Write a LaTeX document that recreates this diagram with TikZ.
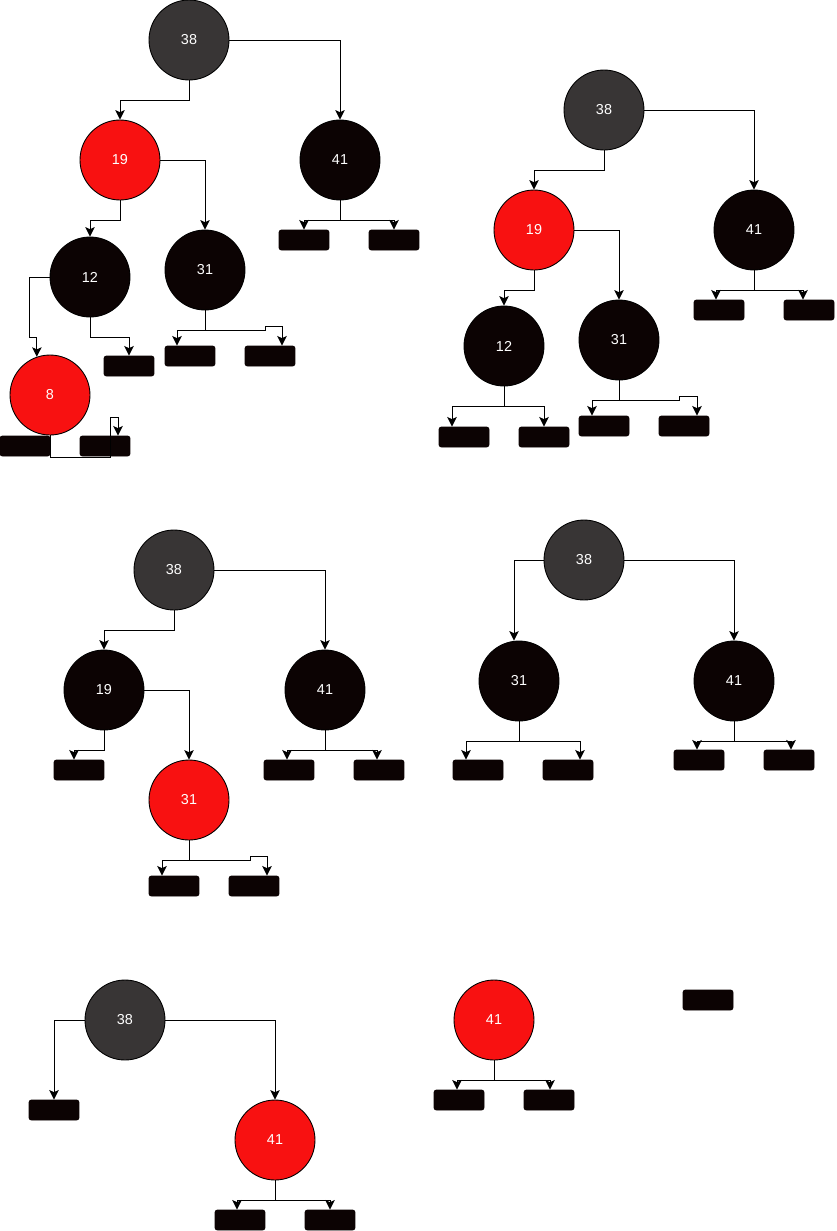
\documentclass[tikz,border=0pt]{standalone}
\usepackage{fontspec}
\setmainfont{Liberation Sans}
\usepackage{xcolor}
\usepackage{tikz}
\usetikzlibrary{arrows.meta, calc}

\definecolor{rbred}{RGB}{248,17,17}
\definecolor{rbblack}{RGB}{12,3,3}
\definecolor{rbgray}{RGB}{56,53,53}

\begin{document}
\begin{tikzpicture}[x={(0.02cm,0)}, y={(0,-0.02cm)}, >={Stealth[length=5.4pt, width=5.4pt, inset=1.2pt]},
      font=\fontsize{8.2}{10}\selectfont, line width=0.55pt,
      key/.style={circle, draw=black, line width=0.5pt, minimum size=1.6cm, inner sep=0pt, text=white},
      redkey/.style={key, fill=rbred},
      blackkey/.style={key, fill=rbblack},
      rootkey/.style={key, fill=rbgray},
      nil/.style={draw=rbblack, fill=rbblack, rounded corners=1.5pt, minimum width=1cm, minimum height=0.4cm, inner sep=0pt}]
    \useasboundingbox (0,0) rectangle (836,1231);
    % --- Tree 1: after inserting 8 ---
    \node[rootkey]  (r1) at (189,40)  {38};
    \node[redkey]   (a1) at (120,160) {19};
    \node[blackkey] (b1) at (340,160) {41};
    \node[blackkey] (c1) at (90,277)  {12};
    \node[blackkey] (d1) at (205,270) {31};
    \node[redkey]   (e1) at (50,395)  {8};
    \node[nil] (n1) at (304,240) {};
    \node[nil] (n2) at (394,240) {};
    \node[nil] (n3) at (129,366) {};
    \node[nil] (n4) at (190,356) {};
    \node[nil] (n5) at (270,356) {};
    \node[nil] (n6) at (25,446)  {};
    \node[nil] (n7) at (105,446) {};
    \draw[->] (r1.south) -- ++(0,20) -| (a1.north);
    \draw[->] (r1.east) -| (b1.north);
    \draw[->] (a1.south) -- ++(0,20) -| (c1.north);
    \draw[->] (a1.east) -| (d1.north);
    \draw[->] (b1.south) -- ++(0,20) -| (n1.north);
    \draw[->] (b1.south) -- ++(0,20) -| (n2.north);
    \draw[->] (c1.west) -- ++(-20,0) -- ++(0,60) -| (e1.109);
    \draw[->] (c1.south) -- ++(0,20) -| (n3.north);
    \draw[->] (d1.south) -- ++(0,20) -| ($(n4.north)+(-13,0)$);
    \draw[->] (d1.south) -- ++(0,20) -- ++(60,0) -- ++(0,-4) -| ($(n5.north)+(12,0)$);
    \draw[->] (e1.south) |- ++(60,22) -- ++(0,-40) -| ($(n7.north)+(13,0)$);
    % --- Tree 2: recoloured ---
    \node[rootkey]  (r2) at (604,110) {38};
    \node[redkey]   (a2) at (534,230) {19};
    \node[blackkey] (b2) at (754,230) {41};
    \node[blackkey] (c2) at (504,346) {12};
    \node[blackkey] (d2) at (619,340) {31};
    \node[nil] (m1) at (719,310) {};
    \node[nil] (m2) at (809,310) {};
    \node[nil] (m3) at (464,437) {};
    \node[nil] (m4) at (544,437) {};
    \node[nil] (m5) at (604,426) {};
    \node[nil] (m6) at (684,426) {};
    \draw[->] (r2.south) -- ++(0,20) -| (a2.north);
    \draw[->] (r2.east) -| (b2.north);
    \draw[->] (a2.south) -- ++(0,20) -| (c2.north);
    \draw[->] (a2.east) -| (d2.north);
    \draw[->] (b2.south) -- ++(0,20) -| ($(m1.north)+(-3,0)$);
    \draw[->] (b2.south) -- ++(0,20) -| ($(m2.north)+(-6,0)$);
    \draw[->] (c2.south) -- ++(0,20) -| ($(m3.north)+(-12,0)$);
    \draw[->] (c2.south) -- ++(0,20) -| (m4.north);
    \draw[->] (d2.south) -- ++(0,20) -| ($(m5.north)+(-12,0)$);
    \draw[->] (d2.south) -- ++(0,20) -- ++(60,0) -- ++(0,-4) -| ($(m6.north)+(13,0)$);
    % --- Tree 3: 12 removed ---
    \node[rootkey]  (r3) at (174,570) {38};
    \node[blackkey] (a3) at (104,690) {19};
    \node[blackkey] (b3) at (325,690) {41};
    \node[redkey]   (d3) at (189,800) {31};
    \node[nil] (k1) at (79,770)  {};
    \node[nil] (k2) at (289,770) {};
    \node[nil] (k3) at (379,770) {};
    \node[nil] (k4) at (174,886) {};
    \node[nil] (k5) at (254,886) {};
    \draw[->] (r3.south) -- ++(0,20) -| (a3.north);
    \draw[->] (r3.east) -| (b3.north);
    \draw[->] (a3.south) -- ++(0,20) -| ($(k1.north)+(-5,0)$);
    \draw[->] (a3.east) -| (d3.north);
    \draw[->] (b3.south) -- ++(0,20) -| ($(k2.north)+(-2,0)$);
    \draw[->] (b3.south) -- ++(0,20) -| ($(k3.north)+(-2,0)$);
    \draw[->] (d3.south) -- ++(0,20) -| ($(k4.north)+(-12,0)$);
    \draw[->] (d3.south) -- ++(0,20) -- ++(61,0) -- ++(0,-4) -| ($(k5.north)+(13,0)$);
    % --- Tree 4: 19 removed ---
    \node[rootkey]  (r4) at (584,560) {38};
    \node[blackkey] (a4) at (519,681) {31};
    \node[blackkey] (b4) at (734,681) {41};
    \node[nil] (j1) at (478,770) {};
    \node[nil] (j2) at (568,770) {};
    \node[nil] (j3) at (699,760) {};
    \node[nil] (j4) at (789,760) {};
    \draw[->] (r4.west) -| ($(a4.north)+(-5,0)$);
    \draw[->] (r4.east) -| (b4.north);
    \draw[->] (a4.south) -- ++(0,20) -| ($(j1.north)+(-12,0)$);
    \draw[->] (a4.south) -- ++(0,20) -| ($(j2.north)+(12,0)$);
    \draw[->] (b4.south) -- ++(0,20) -| ($(j3.north)+(-2,0)$);
    \draw[->] (b4.south) -- ++(0,20) -| ($(j4.north)+(2,0)$);
    % --- Tree 5: 31 removed ---
    \node[rootkey] (r5) at (125,1020) {38};
    \node[redkey]  (b5) at (275,1140) {41};
    \node[nil] (h1) at (54,1110)  {};
    \node[nil] (h2) at (240,1220) {};
    \node[nil] (h3) at (330,1220) {};
    \draw[->] (r5.west) -| (h1.north);
    \draw[->] (r5.east) -| (b5.north);
    \draw[->] (b5.south) -- ++(0,20) -| ($(h2.north)+(-3,0)$);
    \draw[->] (b5.south) -- ++(0,20) -| (h3.north);
    % --- Tree 6: 38 removed ---
    \node[redkey] (b6) at (494,1020) {41};
    \node[nil] (g1) at (459,1100) {};
    \node[nil] (g2) at (549,1100) {};
    \node[nil] (g3) at (708,1000) {};
    \draw[->] (b6.south) -- ++(0,20) -| ($(g1.north)+(-2,0)$);
    \draw[->] (b6.south) -- ++(0,20) -| ($(g2.north)+(1,0)$);
  \end{tikzpicture}
\end{document}
